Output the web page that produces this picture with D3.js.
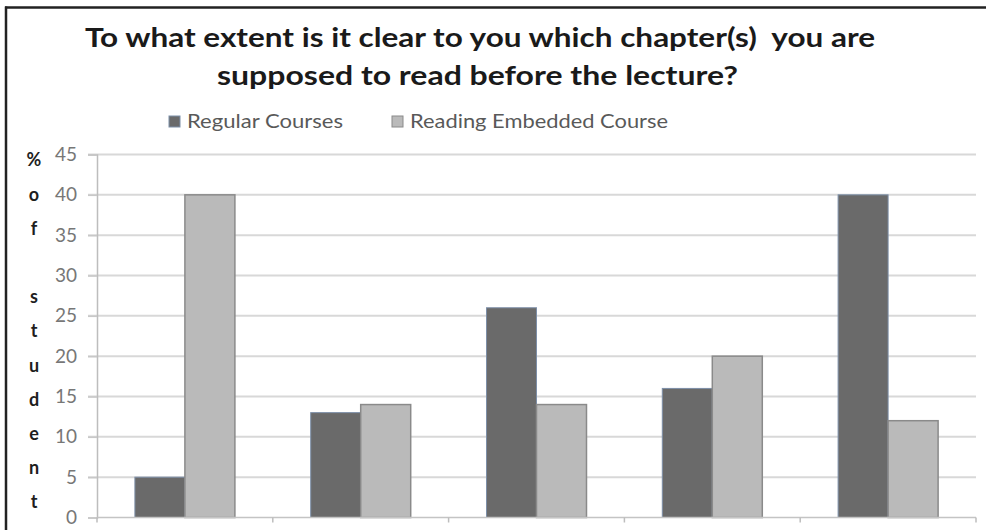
<!DOCTYPE html>
<html>
<head>
<meta charset="utf-8">
<script src="https://cdn.jsdelivr.net/npm/d3@7"></script>
<style>
  body { margin: 0; background: #fff; }
  svg { display: block; }
</style>
</head>
<body>
<div id="chart"></div>
<script>
// data
var categories = ["1", "2", "3", "4", "5"];
var seriesNames = ["Regular Courses", "Reading Embedded Course"];
var regular = [5, 13, 26, 16, 40];
var embedded = [40, 14, 14, 20, 12];
var yTicks = [0, 5, 10, 15, 20, 25, 30, 35, 40, 45];
var titleLines = ["To what extent is it clear to you which chapter(s)  you are",
                  "supposed to read before the lecture?"];
var yTitleWords = ["%", "of", "student"];

var width = 986, height = 530;
var margin = {top: 154.5, right: 10, bottom: 12.5, left: 97};
var colors = ["#6a6a6a", "#bababa"];
var strokes = ["#7d8fa8", "#8a8a8a"];

var svg = d3.select("#chart").append("svg")
    .attr("width", width)
    .attr("height", height);

// frame (top and left edges only)
svg.append("line")
    .attr("x1", 5).attr("x2", width)
    .attr("y1", 7.5).attr("y2", 7.5)
    .attr("stroke", "#222").attr("stroke-width", 2.5);
svg.append("line")
    .attr("x1", 6).attr("x2", 6)
    .attr("y1", 6.5).attr("y2", height)
    .attr("stroke", "#222").attr("stroke-width", 2.5);

var x0 = d3.scaleBand()
    .domain(categories)
    .range([margin.left, width - margin.right])
    .paddingInner(0).paddingOuter(0);

var x1 = d3.scaleBand()
    .domain([0, 1])
    .range([0, x0.bandwidth()])
    .paddingInner(0).paddingOuter(0.758);

var y = d3.scaleLinear()
    .domain([0, 45])
    .range([height - margin.bottom, margin.top]);

// gridlines
svg.append("g")
    .selectAll("line")
    .data(yTicks.filter(function(d) { return d > 0; }))
    .enter()
    .append("line")
    .attr("x1", margin.left - 9)
    .attr("x2", width - margin.right)
    .attr("y1", function(d) { return y(d); })
    .attr("y2", function(d) { return y(d); })
    .attr("stroke", "#d8d8d8")
    .attr("stroke-width", 2);

// y axis
var yAxis = svg.append("g")
    .attr("transform", "translate(" + margin.left + ",0)")
    .call(d3.axisLeft(y).tickValues(yTicks).tickSize(9).tickPadding(11));
yAxis.select(".domain").attr("stroke", "#bdbdbd").attr("stroke-width", 1.5);
yAxis.selectAll(".tick line").attr("stroke", "#c8c8c8").attr("stroke-width", 1.5);
yAxis.selectAll(".tick text")
    .attr("fill", "#777")
    .style("font-family", "Lato, 'Open Sans', sans-serif")
    .style("font-size", "19px");

// bars
var groups = svg.append("g")
    .selectAll("g")
    .data(categories)
    .enter()
    .append("g")
    .attr("transform", function(d) { return "translate(" + x0(d) + ",0)"; });

groups.selectAll("rect")
    .data(function(d, i) { return [regular[i], embedded[i]]; })
    .enter()
    .append("rect")
    .attr("x", function(d, j) { return x1(j); })
    .attr("y", function(d) { return y(d); })
    .attr("width", x1.bandwidth())
    .attr("height", function(d) { return y(0) - y(d); })
    .attr("fill", function(d, j) { return colors[j]; })
    .attr("stroke", function(d, j) { return strokes[j]; })
    .attr("stroke-width", function(d, j) { return j === 0 ? 1 : 1.5; });

// x axis with ticks at category boundaries
var xAxisY = y(0);
svg.append("line")
    .attr("x1", margin.left).attr("x2", width - margin.right)
    .attr("y1", xAxisY).attr("y2", xAxisY)
    .attr("stroke", "#c4c4c4").attr("stroke-width", 1.5);
var bounds = categories.map(function(d) { return x0(d); }).concat([x0.range()[1]]);
svg.append("g")
    .selectAll("line")
    .data(bounds)
    .enter()
    .append("line")
    .attr("x1", function(d) { return d; })
    .attr("x2", function(d) { return d; })
    .attr("y1", xAxisY)
    .attr("y2", xAxisY + 5)
    .attr("stroke", "#bdbdbd").attr("stroke-width", 1.5);

// vertical stacked y title: "%" and "of" run together, one blank slot before "student"
var letters = [];
var slot = 0;
yTitleWords.forEach(function(w, wi) {
    if (wi === 2) slot++;
    w.split("").forEach(function(c) { letters.push({c: c, slot: slot++}); });
});
svg.append("g")
    .selectAll("text")
    .data(letters)
    .enter()
    .append("text")
    .attr("x", 34)
    .attr("y", function(d) { return 160 + d.slot * 34.2; })
    .attr("dy", "0.35em")
    .attr("text-anchor", "middle")
    .style("font-family", "Lato, 'Open Sans', sans-serif")
    .style("font-weight", "bold")
    .style("font-size", "18px")
    .attr("fill", "#1e1e1e")
    .text(function(d) { return d.c; });

// title
var titleW = [790, 521];
svg.append("g")
    .selectAll("text")
    .data(titleLines)
    .enter()
    .append("text")
    .attr("x", function(d, i) { return i === 0 ? 85 : 217; })
    .attr("y", function(d, i) { return 47 + i * 38; })
    .attr("textLength", function(d, i) { return titleW[i]; })
    .attr("lengthAdjust", "spacingAndGlyphs")
    .style("font-family", "Lato, 'Open Sans', sans-serif")
    .style("font-weight", "bold")
    .style("font-size", "27px")
    .attr("fill", "#1a1a1a")
    .style("white-space", "pre")
    .text(function(d) { return d; });

// legend
var legendX = [169, 392];
var legendW = [156, 258];
var legend = svg.append("g")
    .selectAll("g")
    .data(seriesNames)
    .enter()
    .append("g")
    .attr("transform", function(d, i) { return "translate(" + legendX[i] + ",116)"; });
legend.append("rect")
    .attr("width", 11).attr("height", 11)
    .attr("fill", function(d, i) { return colors[i]; })
    .attr("stroke", function(d, i) { return strokes[i]; })
    .attr("stroke-width", 1);
legend.append("text")
    .attr("x", 18)
    .attr("y", 12)
    .attr("textLength", function(d, i) { return legendW[i]; })
    .attr("lengthAdjust", "spacingAndGlyphs")
    .style("font-family", "Lato, 'Open Sans', sans-serif")
    .style("font-size", "19px")
    .attr("fill", "#595959")
    .text(function(d) { return d; });
</script>
</body>
</html>
